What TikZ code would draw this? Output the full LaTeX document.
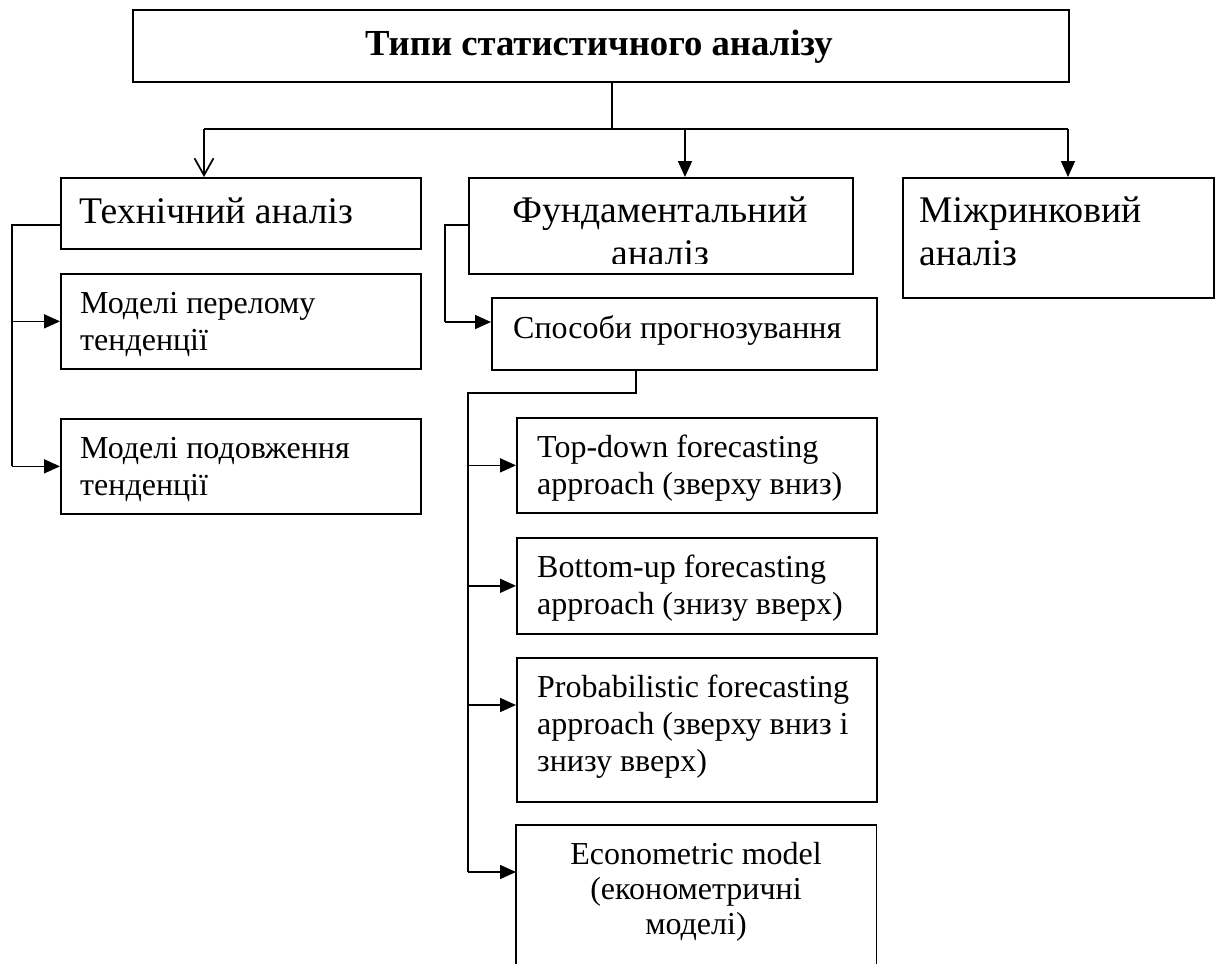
\documentclass[tikz,border=0pt]{standalone}
\usepackage{fontspec}
\setmainfont{Liberation Serif}
\usetikzlibrary{arrows.meta,calc}
\tikzset{
  box/.style={draw, line width=1.7pt, inner sep=0pt, anchor=north west},
  big/.style={font=\fontsize{37.6}{43}\selectfont, inner sep=0pt},
  small/.style={font=\fontsize{32}{37}\selectfont, inner sep=0pt},
  conn/.style={line width=1.7pt},
  thinconn/.style={line width=1.1pt},
  fill arrow/.style={conn, -{Triangle[length=16pt,width=14pt]}},
  open arrow/.style={conn, -{Straight Barb[length=17pt,width=19pt]}},
}
\begin{document}
\begin{tikzpicture}[x=1pt,y=-1pt]
\useasboundingbox (0,0) rectangle (1219,964);
% boxes
\node[box, minimum width=936, minimum height=72] (title) at (132,9) {};
\node[box, minimum width=360, minimum height=71] (tech) at (60,177) {};
\node[box, minimum width=384, minimum height=96] (fund) at (468,177) {};
\node[box, minimum width=311, minimum height=120] (inter) at (902,177) {};
\node[box, minimum width=360, minimum height=95] (brk) at (60,273) {};
\node[box, minimum width=360, minimum height=95] (cont) at (60,418) {};
\node[box, minimum width=385, minimum height=72] (ways) at (491,297) {};
\node[box, minimum width=360, minimum height=95] (topd) at (516,417) {};
\node[box, minimum width=360, minimum height=96] (botu) at (516,537) {};
\node[box, minimum width=360, minimum height=144] (prob) at (516,657) {};
\node[inner sep=0pt, minimum width=360, minimum height=139, anchor=north west] (econ) at (516,825) {};
\draw[line width=1.7pt] (econ.south west) |- (econ.north east) -- (econ.south east);
% texts
\node[anchor=base, inner sep=0pt, font=\fontsize{36.7}{41}\selectfont\bfseries] (titleT) at (599,55) {Типи статистичного аналізу};
\node[big, anchor=base west] (techT) at (79,223) {Технічний аналіз};
\begin{scope}
\clip (468,177) rectangle (852,263);
\node[big, anchor=base] (fundT1) at (660,222) {Фундаментальний};
\node[big, anchor=base] (fundT2) at (660,265) {аналіз};
\end{scope}
\node[big, anchor=base west] (interT1) at (919,222) {Міжринковий};
\node[big, anchor=base west] (interT2) at (919,265) {аналіз};
\node[small, anchor=base west] (brkT1) at (80,313) {Моделі перелому};
\node[small, anchor=base west] (brkT2) at (80,350) {тенденції};
\node[small, anchor=base west] (contT1) at (80,458) {Моделі подовження};
\node[small, anchor=base west] (contT2) at (80,495) {тенденції};
\node[small, anchor=base west] (waysT) at (513,338) {Способи прогнозування};
\node[small, anchor=base west] (topdT1) at (537,457) {Top-down forecasting};
\node[small, anchor=base west] (topdT2) at (537,494) {approach (зверху вниз)};
\node[small, anchor=base west] (botuT1) at (537,577) {Bottom-up forecasting};
\node[small, anchor=base west] (botuT2) at (537,614) {approach (знизу вверх)};
\node[small, anchor=base west] (probT1) at (537,697) {Probabilistic forecasting};
\node[small, anchor=base west] (probT2) at (537,734) {approach (зверху вниз і};
\node[small, anchor=base west] (probT3) at (537,771) {знизу вверх)};
\node[small, anchor=base] (econT1) at (696,864) {Econometric model};
\node[small, anchor=base] (econT2) at (696,899) {(економетричні};
\node[small, anchor=base] (econT3) at (696,934) {моделі)};
% connectors from title
\coordinate (j) at (612,129);
\coordinate (jl) at (204,129);
\coordinate (jr) at (1068,129);
\draw[thinconn] (title.south -| j) -- (j);
\draw[conn] (jl) -- (jr);
\draw[open arrow] (jl) -- (tech.north -| jl);
\draw[fill arrow] (685,129) -- (fund.north -| 685,0);
\draw[fill arrow] (jr) -- (inter.north -| jr);
% technical bracket
\coordinate (tb) at (12,225);
\draw[conn] (tech.west |- tb) -- (tb) -- (tb |- cont.west);
\draw[fill arrow] (tb |- brk.west) -- (brk.west);
\draw[fill arrow] (tb |- cont.west) -- (cont.west);
% fundamental bracket
\coordinate (fb) at (445,225);
\draw[conn] (fund.west |- fb) -- (fb) -- (445,322);
\draw[fill arrow] (445,322) -- (ways.west |- 0,322);
% ways bracket
\coordinate (wb) at (636,393);
\coordinate (wl) at (468,393);
\coordinate (we) at (468,872);
\draw[conn] (ways.south -| wb) -- (wb) -- (wl) -- (we);
\draw[fill arrow] (wl |- topd.west) -- (topd.west);
\draw[fill arrow] (wl |- botu.west) -- (botu.west);
\draw[fill arrow] (468,705) -- (prob.west |- 0,705);
\draw[fill arrow] (we) -- (econ.west |- we);
\end{tikzpicture}
\end{document}
